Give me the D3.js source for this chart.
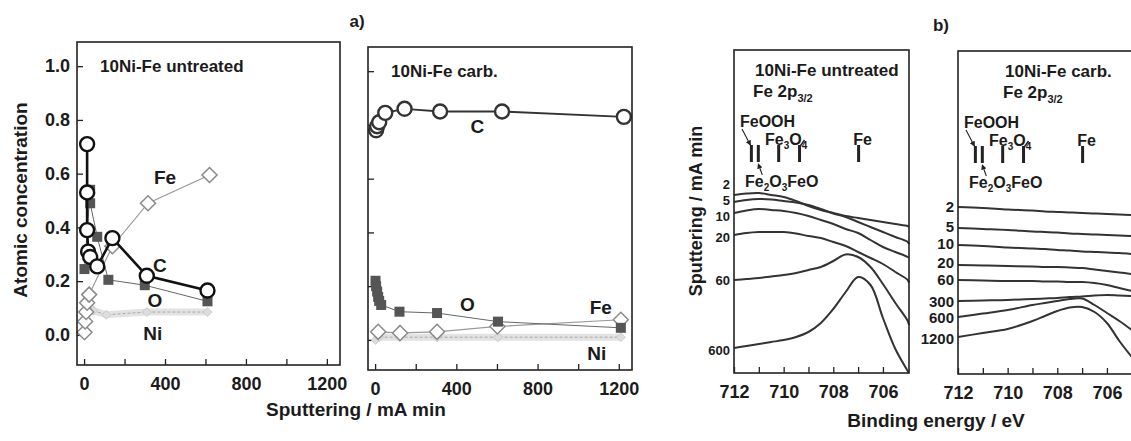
<!DOCTYPE html>
<meta charset="utf-8">
<script src="https://d3js.org/d3.v7.min.js"></script>
<body>
<div id="fig"></div>
</body>
<style>
body { margin: 0; padding: 0; background: #fff; }
text { font-family: "Liberation Sans", Arial, Helvetica, sans-serif; font-weight: bold; fill: #1b1b1b; }
.tick line { stroke: #222; stroke-width: 1.3px; }
.tick text { font-size: 18px; }
.domain { display: none; }
.frame { fill: none; stroke: #222; stroke-width: 1.6px; }
</style>
<script>
// ---------- a) atomic concentration, [sputtering mA min, fraction]
var untrC  = [[15,0.71],[15,0.53],[15,0.39],[20,0.31],[30,0.29],[65,0.255],[140,0.36],[310,0.22],[610,0.165]];
var untrO  = [[2,0.245],[30,0.54],[30,0.49],[65,0.365],[120,0.205],[300,0.185],[610,0.125]];
var untrFe = [[2,0.01],[5,0.05],[10,0.085],[15,0.12],[25,0.15],[140,0.33],[316,0.49],[620,0.595]];
var untrNi = [[15,0.12],[45,0.09],[110,0.075],[310,0.085],[610,0.085]];

var carbC  = [[5,0.78],[10,0.795],[20,0.81],[50,0.845],[145,0.86],[320,0.85],[625,0.85],[1225,0.83]];
var carbO  = [[2,0.22],[5,0.2],[10,0.18],[15,0.16],[20,0.145],[30,0.13],[120,0.105],[305,0.10],[605,0.068],[1210,0.045]];
var carbFe = [[15,0.03],[123,0.026],[305,0.03],[602,0.05],[1210,0.075]];
var carbNi = [[2,0.0],[20,0.01],[120,0.01],[305,0.01],[605,0.01],[1210,0.01]];

var sputterTicks = [0,200,400,600,800,1000,1200];
var concTicks = [0,0.2,0.4,0.6,0.8,1.0];

// ---------- b) Fe 2p3/2 spectra, intensity (arb. units, offset stacked)
var beUntr = [712,711.5,711,710.5,710,709.5,709,708.5,708,707.5,707,706.5,706,705.5,705,704.95];
var doseUntr = ["2","5","10","20","60","600"];
var specUntr = [
  [178,179.5,180,178,176,172,167,163,160,157,155,153,151,149,147,146.5],
  [171,173,174,173.5,172,170.5,168,164,159.5,156,151,146,141,136,131,129],
  [160,162.5,164,163,162,160,157,153,149,144,140,133,126,121,116,115],
  [138,140,141,141,141,139.5,137,135,131,127,121,115,109,101,93,90],
  [93,94,95,96.5,98,100,103,106,112,118.5,116,106,89,70,52,48],
  [25,27,29,31,33,36,41,50,64,81,96,88,55,24,2,0]
];
var beCarb = [712,711,710,709,708.5,708,707.5,707,706.5,706,705.5,705];
var doseCarb = ["2","5","10","20","60","300","600","1200"];
var specCarb = [
  [167,166,164.5,163.5,162.5,162,161.5,161,160.5,160,159.5,159],
  [146,145,144,142.5,142,141.5,140.5,140,139.5,139,138.5,138],
  [129,128,126.5,125.5,125,124,123.5,122.5,122,121.5,121,120],
  [109,108.5,108,107.5,107,107,106.5,106,104.5,103,101.5,100],
  [94,93.5,93,93,92.5,92.5,92,92,91,89,86,83],
  [73,73.5,74,75,75.5,76,77,77.5,78.5,79,78.5,78],
  [57,60.5,64,69,71,73,75,75.5,69,61,53,44],
  [37,41,45,53,58,63,66.5,67,62,51,33,17]
];
var beTicks = [712,711,710,709,708,707,706];
var refPhase = ["FeOOH","Fe2O3","Fe3O4","FeO","Fe"];
var refBE = [711.3, 711.02, 710.2, 709.36, 706.98];

var svg = d3.select("#fig").append("svg")
  .attr("width", 1131).attr("height", 441);

svg.append("defs").append("marker")
  .attr("id", "arr").attr("viewBox", "0 0 6 6").attr("refX", 5).attr("refY", 3)
  .attr("markerWidth", 5).attr("markerHeight", 5).attr("orient", "auto")
  .append("path").attr("d", "M0,0L6,3L0,6Z").attr("fill", "#222");

var diamond = "M0,-7.5L7.5,0L0,7.5L-7.5,0Z";

// ---------- concentration panels
function concPanel(box, title, s, showY, labels) {
  var x = d3.scaleLinear().domain([-35, 1265]).range([box.l, box.r]);
  var y = d3.scaleLinear().domain([-0.112, 1.09]).range([box.b, box.t]);
  var line = d3.line().x(function(d){ return x(d[0]); }).y(function(d){ return y(d[1]); });
  var g = svg.append("g");

  g.append("g").attr("transform", "translate(0," + box.b + ")")
    .call(d3.axisBottom(x).tickValues(sputterTicks).tickSizeInner(-6).tickSizeOuter(0).tickPadding(12)
      .tickFormat(function(d){ return d % 400 === 0 ? d : ""; }));
  g.append("g").attr("transform", "translate(" + box.l + ",0)")
    .call(d3.axisLeft(y).tickValues(concTicks).tickSizeInner(-6).tickSizeOuter(0).tickPadding(7)
      .tickFormat(showY ? d3.format(".1f") : function(){ return ""; }));

  // Ni: faint blurred band with dotted core
  g.append("path").datum(s.ni).attr("d", line)
    .attr("fill", "none").attr("stroke", "#e2e2e2").attr("stroke-width", 7);
  g.append("path").datum(s.ni).attr("d", line)
    .attr("fill", "none").attr("stroke", "#a8a8a8").attr("stroke-width", 1).attr("stroke-dasharray", "3,2");
  g.selectAll(".ni").data(s.ni).enter().append("path")
    .attr("transform", function(d){ return "translate(" + x(d[0]) + "," + y(d[1]) + ") scale(0.6)"; })
    .attr("d", diamond).attr("fill", "#ddd").attr("stroke", "#bbb");

  // Fe
  g.append("path").datum(s.fe).attr("d", line)
    .attr("fill", "none").attr("stroke", "#999").attr("stroke-width", 1.2);
  g.selectAll(".fe").data(s.fe).enter().append("path")
    .attr("transform", function(d){ return "translate(" + x(d[0]) + "," + y(d[1]) + ")"; })
    .attr("d", diamond).attr("fill", "#fff").attr("stroke", "#8a8a8a").attr("stroke-width", 1.5);

  // O
  g.append("path").datum(s.o).attr("d", line)
    .attr("fill", "none").attr("stroke", "#666").attr("stroke-width", 1);
  g.selectAll(".o").data(s.o).enter().append("rect")
    .attr("x", function(d){ return x(d[0]) - 5; })
    .attr("y", function(d){ return y(d[1]) - 5; })
    .attr("width", 10).attr("height", 10).attr("fill", "#555");

  // C
  g.append("path").datum(s.c).attr("d", line)
    .attr("fill", "none").attr("stroke", s.cColor).attr("stroke-width", s.cWidth);
  g.selectAll(".c").data(s.c).enter().append("circle")
    .attr("cx", function(d){ return x(d[0]); })
    .attr("cy", function(d){ return y(d[1]); })
    .attr("r", 7).attr("fill", "#fff").attr("stroke", s.cColor).attr("stroke-width", 2.4);

  g.append("rect").attr("class", "frame")
    .attr("x", box.l).attr("y", box.t).attr("width", box.r - box.l).attr("height", box.b - box.t);

  g.append("text").attr("x", box.l + 23).attr("y", box.t + 30).style("font-size", "17px").text(title);

  labels.forEach(function(lb){
    g.append("text").attr("x", x(lb[1])).attr("y", y(lb[2])).attr("dy", "0.36em")
      .attr("text-anchor", "middle").style("font-size", "19px").text(lb[0]);
  });
}

concPanel({l: 77, r: 340, t: 42, b: 365}, "10Ni-Fe untreated",
  {c: untrC, o: untrO, fe: untrFe, ni: untrNi, cColor: "#111", cWidth: 2.6}, true,
  [["Fe", 400, 0.587], ["C", 375, 0.26], ["O", 350, 0.13], ["Ni", 340, 0.007]]);
concPanel({l: 368, r: 632, t: 47, b: 370}, "10Ni-Fe carb.",
  {c: carbC, o: carbO, fe: carbFe, ni: carbNi, cColor: "#333", cWidth: 1.8}, false,
  [["C", 504, 0.795], ["O", 455, 0.134], ["Fe", 1111, 0.12], ["Ni", 1092, -0.049]]);

svg.append("text").attr("transform", "translate(27,200) rotate(-90)")
  .attr("text-anchor", "middle").style("font-size", "19px").text("Atomic concentration");
svg.append("text").attr("x", 356).attr("y", 416)
  .attr("text-anchor", "middle").style("font-size", "19px").text("Sputtering / mA min");
svg.append("text").attr("x", 357).attr("y", 27)
  .attr("text-anchor", "middle").style("font-size", "17px").text("a)");

// ---------- spectra panels
function specPanel(box, be, spec, dose, title) {
  var x = d3.scaleLinear().domain([712, 704.95]).range([box.l, box.r]);
  var y = d3.scaleLinear().domain([0, 323]).range([box.b, box.t]);
  var g = svg.append("g");

  g.append("g").attr("transform", "translate(0," + box.b + ")")
    .call(d3.axisBottom(x).tickValues(beTicks).tickSizeInner(-6).tickSizeOuter(0).tickPadding(12)
      .tickFormat(function(d){ return d % 2 === 0 ? d : ""; }));

  var line = d3.line().curve(d3.curveCatmullRom.alpha(0.5))
    .x(function(d, i){ return x(be[i]); }).y(function(d){ return y(d); });
  g.selectAll(".sp").data(spec).enter().append("path")
    .attr("d", line).attr("fill", "none").attr("stroke", "#333").attr("stroke-width", 2);

  g.selectAll(".dose").data(spec).enter().append("text")
    .attr("x", box.l - 4)
    .attr("y", function(d, i){ return y(d[0]) + (box.shift[i] || 0); }).attr("dy", "0.36em")
    .attr("text-anchor", "end").style("font-size", box.fs)
    .text(function(d, i){ return dose[i]; });

  g.append("rect").attr("class", "frame")
    .attr("x", box.l).attr("y", box.t).attr("width", box.r - box.l).attr("height", box.b - box.t);

  g.append("text").attr("x", box.l + box.tx).attr("y", box.t + 26).style("font-size", "17px").text(title);
  var t2 = g.append("text").attr("x", box.l + box.tx - 2).attr("y", box.t + 47).style("font-size", "17px");
  t2.append("tspan").text("Fe 2p");
  t2.append("tspan").attr("dy", 5).style("font-size", "11px").text("3/2");

  // reference positions
  g.selectAll(".ref").data(refBE).enter().append("line")
    .attr("x1", function(d){ return x(d); }).attr("x2", function(d){ return x(d); })
    .attr("y1", box.t + 95).attr("y2", box.t + 112)
    .attr("stroke", "#222").attr("stroke-width", 3);
  g.append("line").attr("x1", x(refBE[3])).attr("y1", box.t + 97)
    .attr("x2", x(refBE[3]) + 5).attr("y2", box.t + 90).attr("stroke", "#222").attr("stroke-width", 1.5);
  g.append("line").attr("x1", box.l + 8).attr("y1", box.t + 79)
    .attr("x2", x(refBE[0]) - 1).attr("y2", box.t + 95)
    .attr("stroke", "#222").attr("stroke-width", 1.1).attr("marker-end", "url(#arr)");
  g.append("line").attr("x1", x(refBE[1]) + 4).attr("y1", box.t + 125)
    .attr("x2", x(refBE[1])).attr("y2", box.t + 114)
    .attr("stroke", "#222").attr("stroke-width", 1.1).attr("marker-end", "url(#arr)");

  g.append("text").attr("x", box.l + 6).attr("y", box.t + 77).style("font-size", "16px").text(refPhase[0]);
  var f3 = g.append("text").attr("x", box.l + 31).attr("y", box.t + 95).style("font-size", "16px");
  f3.append("tspan").text("Fe");
  f3.append("tspan").attr("dy", 4).style("font-size", "10px").text("3");
  f3.append("tspan").attr("dy", -4).text("O");
  f3.append("tspan").attr("dy", 4).style("font-size", "10px").text("4");
  g.append("text").attr("x", x(refBE[4]) + 4).attr("y", box.t + 95)
    .attr("text-anchor", "middle").style("font-size", "16px").text(refPhase[4]);
  var f2 = g.append("text").attr("x", box.l + 11).attr("y", box.t + 137).style("font-size", "16px");
  f2.append("tspan").text("Fe");
  f2.append("tspan").attr("dy", 4).style("font-size", "10px").text("2");
  f2.append("tspan").attr("dy", -4).text("O");
  f2.append("tspan").attr("dy", 4).style("font-size", "10px").text("3");
  f2.append("tspan").attr("dy", -4).text("FeO");
}

specPanel({l: 734, r: 909, t: 50, b: 373, tx: 21, fs: "13px", shift: [-11, -2, 3, 2, 0, 2]},
  beUntr, specUntr, doseUntr, "10Ni-Fe untreated");
specPanel({l: 958, r: 1133, t: 51, b: 374, tx: 47, fs: "15px", shift: [0, -1, -1, -2, 0, 1, 1, 2]},
  beCarb, specCarb, doseCarb, "10Ni-Fe carb.");

svg.append("text").attr("transform", "translate(702,211) rotate(-90)")
  .attr("text-anchor", "middle").style("font-size", "18px").text("Sputtering / mA min");
svg.append("text").attr("x", 936).attr("y", 427)
  .attr("text-anchor", "middle").style("font-size", "19px").text("Binding energy / eV");
svg.append("text").attr("x", 941).attr("y", 31)
  .attr("text-anchor", "middle").style("font-size", "17px").text("b)");
</script>
